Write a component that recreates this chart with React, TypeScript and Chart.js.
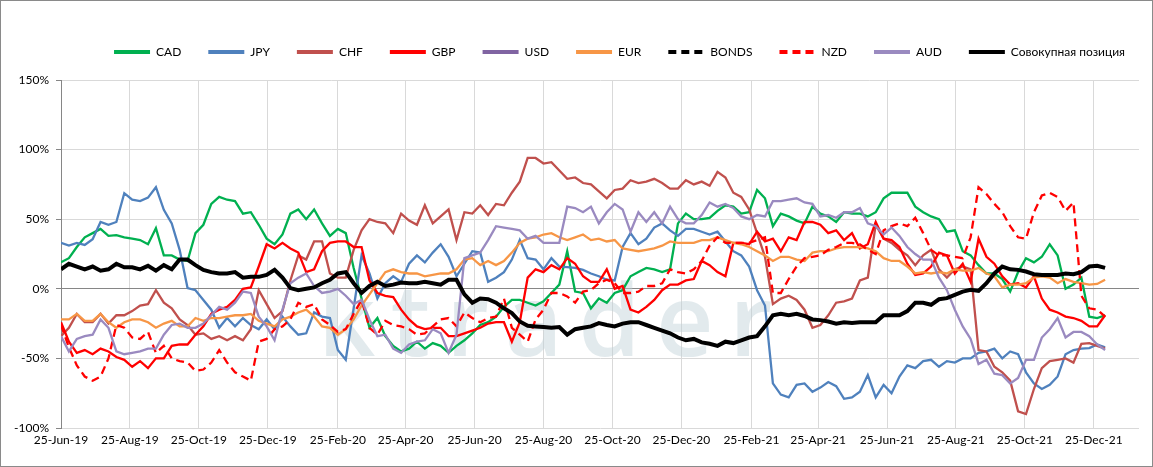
import { useEffect, useRef } from "react";
import { Chart, registerables } from "chart.js";

Chart.register(...registerables);

// weekly observations, first one on 25-Jun-19
const START = "25-Jun-19";
const WEEK_COUNT = 133;

const tickLabels = [
  "25-Jun-19", "25-Aug-19", "25-Oct-19", "25-Dec-19", "25-Feb-20", "25-Apr-20",
  "25-Jun-20", "25-Aug-20", "25-Oct-20", "25-Dec-20", "25-Feb-21", "25-Apr-21",
  "25-Jun-21", "25-Aug-21", "25-Oct-21", "25-Dec-21",
];

const cad = [
  19, 22, 30, 37, 40, 43, 38, 38.5, 37, 36,
  35, 32, 43.5, 24, 24, 21, 20, 40, 46, 61,
  66, 64, 63, 54, 55, 46, 36, 32, 39, 54,
  57, 50, 57, 47, 38, 43, 40, 15, -7, -28,
  -21, -34, -41, -45, -43, -38, -43, -39, -41, -46,
  -41, -37, -32, -26, -24, -20, -13, -8, -8, -10,
  -12, -9, -3, 3, 27, -2, -3, -14, -7, -10,
  -3, -1, 9, 12, 15, 14, 12, 14, 47, 54,
  50, 50, 51, 56, 60, 59, 54, 55, 71, 65,
  45, 54, 52, 49, 47, 59, 54, 52, 48, 55,
  54, 54, 52, 55, 65, 69, 69, 69, 59, 55,
  52, 50, 41, 42, 27, 24, 17, 11, 11, 7,
  -2, 12, 22, 19, 23, 32, 24, 0, 3, 8,
  -20, -21, -19,
];

const jpy = [
  33, 31, 33, 31.5, 35.6, 48, 46, 48, 68.7, 64,
  63, 65.5, 73, 56.7, 47, 28, 0.5, -1, -8, -15,
  -28, -21, -27, -21, -26, -29, -22, -29, -20, -27,
  -33, -32, -17, -20, -21, -44, -51, -14, 24, 11,
  -7, 4, 9, 5, 18, 24, 19, 26, 32, 23,
  9, 18, 27, 26, 5, 8, 12, 21, 35, 22,
  21, 14, 22, 16, 15.5, 15, 13.6, 11, 9, 6.5,
  6, 30, 40, 32, 36, 44, 47, 42, 38, 43,
  43, 41, 39, 41, 34, 27, 24, 16, -1, -12,
  -68, -76, -78, -69, -68, -74, -71, -67, -70, -79,
  -78, -74, -62, -78, -69, -75, -63, -55, -57, -52,
  -51, -56, -52, -53, -50, -50, -46, -45, -43, -50,
  -45, -47, -60, -68, -72, -69, -63, -47, -44, -43,
  -42.6, -40, -42,
];

const chf = [
  -34, -28, -18, -24, -24, -18, -25, -19, -19, -16,
  -12, -11, -1, -10, -14, -22, -26, -33, -32, -36,
  -34, -37, -34, -37, -29, -1, -11, -21, -16, 6,
  24, 21, 34, 34, 11, 8, 8, 28, 42, 50,
  48, 47, 40, 54, 49, 46, 60, 47, 52, 57,
  35, 55, 54, 60, 53, 61, 60, 69, 77, 94,
  94, 90, 91, 85, 79, 80, 76, 75, 70, 65,
  71, 72, 78, 76, 77, 79, 76, 72, 72, 78,
  75, 77, 74, 84, 80, 69, 66, 57, 40, 23,
  -11, -7, -5, -8, -15, -28, -26, -19, -10, -9,
  -7, 6, 8, 46, 36, 33, 28, 24, 17, 24,
  28, 14, 8, 14, 16, 14, -44, -45, -56, -60,
  -66, -88, -90, -72, -57, -52, -51, -50, -53, -39.5,
  -39, -41, -43,
];

const gbp = [
  -24, -38, -46, -44, -47, -43, -45, -49, -51, -56,
  -52, -57, -50, -50, -41, -40, -40, -33, -27, -18,
  -15, -13, -8, 0, 1, 16, 32, 29, 33, 29,
  26, 12, 14, 27, 33, 34, 34, 30, 30, 6,
  -3, -5, -6, -15, -22, -27, -29, -28, -28, -34,
  -34, -32, -30, -28, -25, -24, -24, -38, -24, 8,
  14, 12, 17, 14, 22, 18, 9, 5, 5, 14,
  0, 2, -15, -17, -13, -8, -1, 3, 3, 6,
  7, 20, 17, 12, 9, 33, 33, 32, 41, 34,
  36, 27, 37, 35, 48, 48, 46, 40, 42, 35,
  40, 29, 32, 48, 36, 35, 30, 18, 10, 11,
  16, 26, 24, 11, 18, 5, 36, 23, 18, 9,
  3, 4, 1, 9, -7, -15, -17, -20, -21, -23,
  -27, -27, -19,
];

// no separate USD or BONDS line can be seen in the picture
const usd: number[] = [];
const bonds: number[] = [];

const eur = [
  -22, -22, -18, -23, -23, -18, -24, -28, -24, -22,
  -22, -24, -28, -25, -23, -27, -27, -21, -23, -21,
  -21, -20, -19, -19, -18, -23, -25, -27, -22, -20,
  -17, -15, -20, -27, -28, -33, -29, -22, -12, -4,
  4, 12, 14, 12, 11, 11, 9, 10, 11, 11,
  14, 21, 22, 17, 20, 17, 20, 26, 33, 36,
  37, 39, 40, 37, 35, 37, 39, 35, 36, 34,
  35, 29, 28, 27, 28, 29, 31, 34, 33, 33,
  33, 35, 35, 37, 35, 33, 32, 30, 27, 24,
  20, 23, 23, 21, 20, 26, 27, 27, 29, 30,
  30, 30, 29, 27, 22, 20, 20, 16, 11, 12,
  11, 12, 11, 14, 13, 13, 15, 11, 9, 1,
  3, 3, 4, 8, 9, 8, 4, 7, 5, 4,
  3, 3.5, 6.5,
];

const nzd = [
  -26, -42, -55, -63, -66, -63, -50, -26, -28, -35,
  -36, -31, -46, -41, -50, -52, -53, -59, -58, -53,
  -44, -53, -60, -63, -66, -38, -36, -29, -27, -22,
  -10, -13, -11, -22, -26, -31, -29, -18, -8, -28,
  -33, -23, -26, -27, -29, -33, -32, -27, -22, -21,
  -27, -17, -21, -24, -21, -20, -7, -28, -33, -38,
  -22, -15, -3, -3, -5.5, -10, -2, -1, 4, 6.5,
  4, -3, -3, -2, 2, 2, 4, 14, 12, 11,
  14, 20, 31, 37, 33, 33, 33, 33, 35, 37,
  -3, -3, 7, 16, 22, 23, 24, 28, 30, 33,
  33, 32, 28, 25, 42, 45, 47, 45, 51, 40,
  28, 24, 24, 23, 22, 37, 73, 68, 61, 55,
  45, 37, 36, 55, 67, 69, 66, 56, 62, -5,
  -14, -15, -20,
];

const aud = [
  -34, -45, -36, -34, -33, -22, -28, -45, -47, -46,
  -45, -43, -43, -33, -26, -25, -28, -28, -25, -19,
  -13, -15, -10, -2, -3, -20, -27, -37, -15, 4,
  8, 11, 2, -3, -2, 0, -5, -11, -8, -22,
  -34, -33, -43, -46, -40, -38, -37, -29, -32, -46,
  -33, 22, 24, 26, 35, 45, 44, 43, 42, 36,
  38, 33, 33, 33, 59, 58, 55, 59, 47, 55,
  61, 57, 41, 55, 48, 55, 47, 59, 50, 47,
  47, 53, 62, 59, 61, 58, 52, 50, 53, 52,
  63, 63, 64, 65, 62, 61, 52, 53, 51, 55,
  55, 58, 47, 45, 39, 44, 38, 30, 25, 21,
  21, 8, -1, -15, -27, -36, -54, -51, -61, -62,
  -68, -64, -51, -51, -35, -29, -21, -35, -31, -31,
  -34, -40, -44,
];

const total = [
  14, 18, 16, 14, 16, 13, 14, 18, 15.5, 15.5,
  14, 16.5, 13, 17, 14, 21, 21, 17, 13.6, 12,
  11, 11, 12, 8, 8.6, 8.6, 10, 13.6, 8, 0.5,
  -1, 0, 1, 4, 6.5, 11, 12, 4, -3, 2,
  5, 2, 3, 4.5, 4, 4, 5, 4, 3, 6.5,
  6.5, -4, -10, -7, -7.5, -10, -14, -17.5, -23.5, -26.6,
  -27, -27.5, -28, -27.5, -33, -29, -28, -27, -24.6, -26,
  -27, -25, -24, -24, -26, -28, -30, -32, -35, -37,
  -36, -38.5, -39.5, -41, -38, -39, -37, -35, -34, -27,
  -19, -18, -19, -18, -19.5, -22, -22.5, -23.5, -25, -24,
  -24.5, -24, -24, -24, -19, -19, -19, -16, -10, -10,
  -11.5, -7.5, -6.7, -4.3, -2, -0.7, -1.5, 4, 11, 16,
  14, 13.6, 12.4, 10.5, 10, 10, 10, 11, 10.5, 12,
  16, 16.5, 15,
];

const MONTHS = ["Jan", "Feb", "Mar", "Apr", "May", "Jun", "Jul", "Aug", "Sep", "Oct", "Nov", "Dec"];
const dayOf = (s: string) => {
  const [d, m, y] = s.split("-");
  return Date.UTC(2000 + Number(y), MONTHS.indexOf(m), Number(d)) / 864e5;
};
const startDay = dayOf(START);
const tickDays = tickLabels.map((l) => dayOf(l) - startDay);
const weekDays = Array.from({ length: WEEK_COUNT }, (_, i) => i * 7);
const toPoints = (vals: number[]) => vals.map((v, i) => ({ x: weekDays[i], y: v }));

const FONT = "Lato, 'Open Sans', sans-serif";

const series = [
  { label: "CAD", data: cad, color: "#00B050", width: 2.3, dash: [] as number[] },
  { label: "JPY", data: jpy, color: "#4F81BD", width: 2.3, dash: [] },
  { label: "CHF", data: chf, color: "#C0504D", width: 2.3, dash: [] },
  { label: "GBP", data: gbp, color: "#FF0000", width: 2.3, dash: [] },
  { label: "USD", data: usd, color: "#8064A2", width: 2.3, dash: [] },
  { label: "EUR", data: eur, color: "#F79646", width: 2.3, dash: [] },
  { label: "BONDS", data: bonds, color: "#000000", width: 2.3, dash: [8, 5] },
  { label: "NZD", data: nzd, color: "#FF0000", width: 2.3, dash: [8, 5] },
  { label: "AUD", data: aud, color: "#9A8AC0", width: 2.3, dash: [] },
  { label: "Совокупная позиция", data: total, color: "#000000", width: 4, dash: [] },
];

// legend: one row, fixed band height, a little further right than the plot edge
const legendBox = {
  id: "legendBox",
  beforeInit(chart: any) {
    const legend = chart.legend;
    const fit = legend.fit;
    legend.fit = function () {
      fit.call(this);
      this.height = 61;
    };
  },
  afterLayout(chart: any) {
    chart.legend.left += 13;
    chart.legend.right += 13;
  },
};

const watermark = {
  id: "watermark",
  beforeDatasetsDraw(chart: any) {
    const ctx = chart.ctx;
    ctx.save();
    ctx.font = "600 100px 'Open Sans', sans-serif";
    ctx.fillStyle = "rgba(190, 208, 214, 0.45)";
    ctx.textBaseline = "alphabetic";
    const w0 = ctx.measureText("ktrader").width;
    (ctx as any).letterSpacing = `${Math.max(0, (470 - w0) / 7)}px`;
    ctx.fillText("ktrader", 318, 356);
    ctx.restore();
  },
};

const frame = {
  id: "frame",
  afterDraw(chart: any) {
    const ctx = chart.ctx;
    ctx.save();
    ctx.strokeStyle = "#8a8a8a";
    ctx.lineWidth = 1;
    ctx.strokeRect(0.5, 0.5, chart.width - 1, chart.height - 1);
    ctx.restore();
  },
};

const App = () => {
  const chartRef = useRef<HTMLCanvasElement | null>(null);
  const chartInstanceRef = useRef<Chart | null>(null);

  useEffect(() => {
    if (!chartRef.current) return;
    const ctx = chartRef.current.getContext("2d");
    if (!ctx) return;
    if (chartInstanceRef.current) chartInstanceRef.current.destroy();

    chartInstanceRef.current = new Chart(ctx, {
      type: "line",
      data: {
        datasets: series.map((s, i) => ({
          label: s.label,
          data: toPoints(s.data),
          borderColor: s.color,
          backgroundColor: s.color,
          borderWidth: s.width,
          borderDash: s.dash,
          pointRadius: 0,
          pointHoverRadius: 0,
          tension: 0,
          fill: false,
          order: series.length - i, // later series drawn on top, as in the original
        })),
      },
      options: {
        animation: false,
        responsive: true,
        maintainAspectRatio: false,
        layout: { padding: { top: 19, right: 14, left: 0, bottom: 0 } },
        plugins: {
          tooltip: { enabled: false },
          legend: {
            position: "top",
            align: "end",
            labels: {
              usePointStyle: true,
              pointStyleWidth: 36,
              boxHeight: 12,
              padding: 27,
              color: "#000",
              font: { family: FONT, size: 12 },
              sort: (a: any, b: any) => a.datasetIndex - b.datasetIndex,
              generateLabels: (chart: any) =>
                Chart.defaults.plugins.legend.labels.generateLabels(chart).map((l: any) => {
                  const s = series[l.datasetIndex];
                  return {
                    ...l,
                    pointStyle: "line",
                    lineWidth: 4,
                    strokeStyle: s.color,
                    fillStyle: s.color,
                    lineDash: s.dash,
                  };
                }),
            },
          },
        },
        scales: {
          x: {
            type: "linear",
            min: 0,
            max: 954,
            afterBuildTicks: (scale: any) => {
              scale.ticks = tickDays.map((v) => ({ value: v }));
            },
            afterFit: (scale: any) => {
              scale.height = 39;
            },
            ticks: {
              autoSkip: false,
              maxRotation: 0,
              padding: 5,
              color: "#000",
              font: { family: FONT, size: 12 },
              callback: (_v: any, i: number) => tickLabels[i],
            },
            grid: { color: "#d9d9d9", drawTicks: false },
            border: { display: false },
          },
          y: {
            min: -100,
            max: 150,
            afterFit: (scale: any) => {
              scale.width = 61;
            },
            ticks: {
              stepSize: 50,
              padding: 7,
              color: "#000",
              font: { family: FONT, size: 12 },
              callback: (v: any) => `${v}%`,
            },
            grid: {
              color: (c: any) => (c.tick && c.tick.value === 0 ? "#868686" : "#d9d9d9"),
              tickLength: 5,
              tickColor: "#868686",
            },
            border: { color: "#868686" },
          },
        },
      },
      plugins: [legendBox, watermark, frame],
    } as any);

    return () => {
      if (chartInstanceRef.current) {
        chartInstanceRef.current.destroy();
        chartInstanceRef.current = null;
      }
    };
  }, []);

  return (
    <div style={{ position: "absolute", left: 0, top: 0, width: 1153, height: 467, background: "#fff" }}>
      <canvas ref={chartRef} />
    </div>
  );
};

export default App;
